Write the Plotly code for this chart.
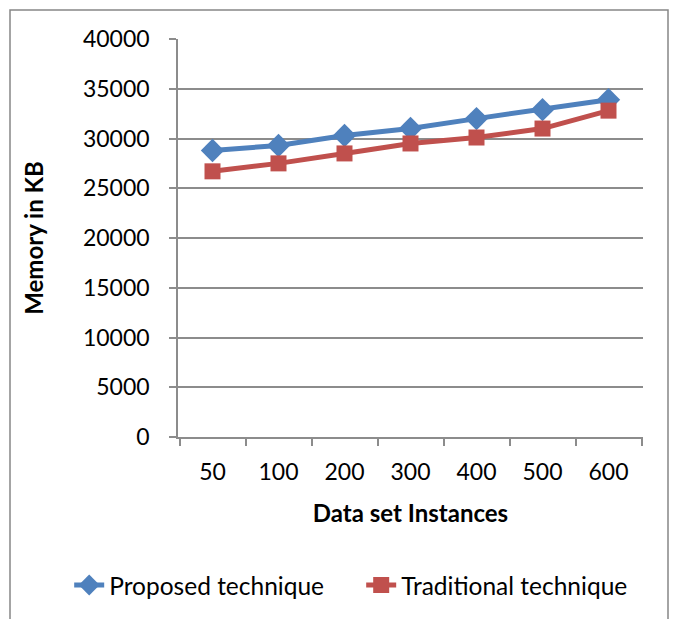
import plotly.graph_objects as go

instances = ["50", "100", "200", "300", "400", "500", "600"]
proposed = [28800, 29300, 30300, 31000, 32000, 32900, 33900]
traditional = [26700, 27500, 28500, 29500, 30100, 31000, 32800]
y_ticks = [0, 5000, 10000, 15000, 20000, 25000, 30000, 35000, 40000]

font_main = "Lato, 'Open Sans', sans-serif"
axis_grey = "#8C8C8C"

fig = go.Figure()
fig.add_trace(go.Scatter(
    x=instances, y=proposed, name="Proposed technique",
    mode="lines+markers",
    line=dict(color="#4F81BD", width=5),
    marker=dict(symbol="diamond", size=18, color="#4F81BD"),
))
fig.add_trace(go.Scatter(
    x=instances, y=traditional, name="Traditional technique",
    mode="lines+markers",
    line=dict(color="#C0504D", width=5),
    marker=dict(symbol="square", size=16, color="#C0504D"),
))

fig.update_layout(
    width=674, height=619,
    margin=dict(l=178, r=31, t=39, b=182),
    paper_bgcolor="white", plot_bgcolor="white",
    font=dict(family=font_main, color="#000000", size=23),
    showlegend=True,
    legend=dict(
        orientation="h", x=-0.234, xanchor="left", y=-0.372, yanchor="middle",
        font=dict(size=24.5), entrywidth=247, entrywidthmode="pixels",
        tracegroupgap=0, bgcolor="rgba(0,0,0,0)",
    ),
    xaxis=dict(
        type="category", tickson="boundaries",
        showline=True, linecolor=axis_grey, linewidth=1.5,
        ticks="outside", ticklen=7, tickcolor=axis_grey, tickwidth=1.5,
        showgrid=False, tickfont=dict(size=23),
        ticklabelstandoff=14,
        title=dict(text="<b>Data set Instances</b>", font=dict(size=24), standoff=21),
    ),
    yaxis=dict(
        range=[0, 40000], tickvals=y_ticks, ticktext=[str(v) for v in y_ticks],
        showline=True, linecolor=axis_grey, linewidth=1.5,
        ticks="outside", ticklen=7, tickcolor=axis_grey, tickwidth=1.5,
        showgrid=True, gridcolor=axis_grey, gridwidth=1.5,
        tickfont=dict(size=23), ticklabelstandoff=15,
        zeroline=False,
        title=dict(text="<b>Memory in KB</b>", font=dict(size=24), standoff=33),
    ),
)

# Chart frame around the whole figure
fig.add_shape(
    type="rect", xref="paper", yref="paper",
    x0=(10 - 178) / 465, x1=(668 - 178) / 465,
    y0=-0.6, y1=1 + (39 - 10) / 398,
    line=dict(color="#868686", width=1.5), fillcolor="rgba(0,0,0,0)",
    layer="below",
)

fig.write_html("out.html")
